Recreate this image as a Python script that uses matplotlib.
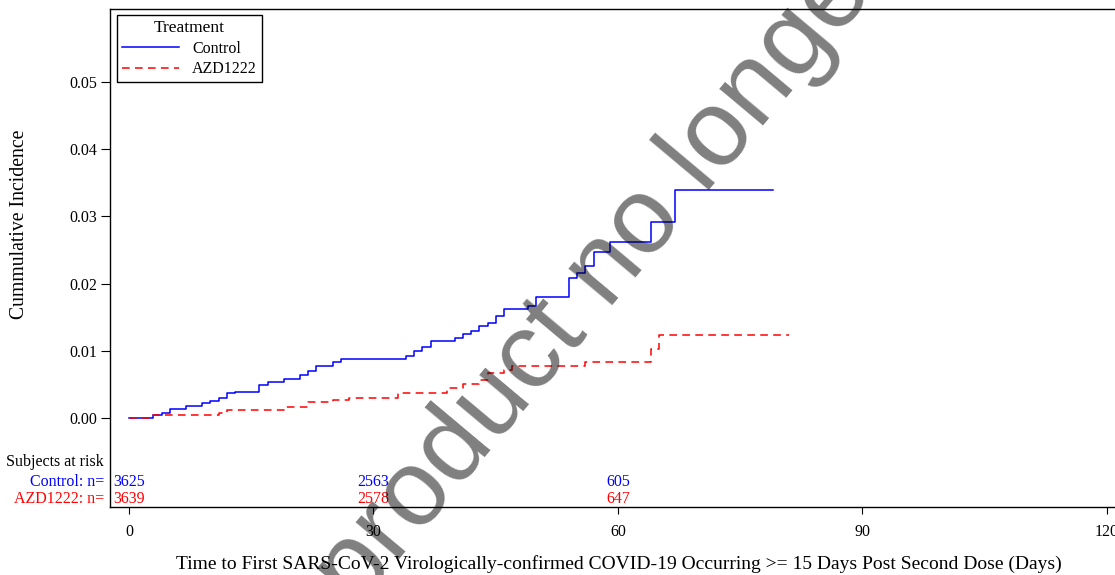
import matplotlib
matplotlib.use("Agg")
import matplotlib.pyplot as plt
import matplotlib.transforms as mtransforms

plt.rcParams["font.family"] = ["Liberation Serif", "DejaVu Serif"]

# Kaplan-Meier style cumulative incidence
ctrl_days = [0, 3, 4, 5, 7, 9, 10, 11, 12, 13, 16, 17, 19, 21, 22, 23, 25, 26,
             34, 35, 36, 37, 40, 41, 42, 43, 44, 45, 46, 49, 50, 54, 55, 56,
             57, 59, 64, 67, 79]
ctrl_inc = [0, 0.00045, 0.0008, 0.0014, 0.0018, 0.0022, 0.0026, 0.0030,
            0.0037, 0.0039, 0.0049, 0.0053, 0.0058, 0.0064, 0.0070, 0.0077,
            0.0084, 0.0088, 0.0092, 0.0100, 0.0106, 0.0115, 0.0119, 0.0125,
            0.0130, 0.0137, 0.0142, 0.0152, 0.0162, 0.0167, 0.0180, 0.0209,
            0.0216, 0.0226, 0.0247, 0.0262, 0.0292, 0.0339, 0.0339]

azd_days = [0, 3, 11, 12, 19, 22, 25, 27, 33, 39, 41, 43, 44, 46, 47, 56, 64,
            65, 81]
azd_inc = [0, 0.00045, 0.0007, 0.0012, 0.0016, 0.0024, 0.0027, 0.0030,
           0.0037, 0.0044, 0.0050, 0.0057, 0.0067, 0.0071, 0.0077, 0.0084,
           0.0103, 0.0124, 0.0124]

risk_days = [0, 30, 60]
ctrl_risk = [3625, 2563, 605]
azd_risk = [3639, 2578, 647]

x_ticks = [0, 30, 60, 90, 120]
y_ticks = [0.00, 0.01, 0.02, 0.03, 0.04, 0.05]

W, H = 1115, 575
fig = plt.figure(figsize=(W / 100, H / 100), dpi=100)
ax = fig.add_axes([110 / W, (H - 507) / H, 1010 / W, 498 / H])

ax.step(ctrl_days, ctrl_inc, where="post", color="#0000ff", lw=1.1,
        label="Control")
ax.step(azd_days, azd_inc, where="post", color="#ff0000", lw=1.1,
        linestyle=(0, (5, 3.5)), label="AZD1222")

ax.set_xlim(-2.33, 121.6)
ax.set_ylim(-0.01324, 0.06086)
ax.set_xticks(x_ticks)
ax.set_yticks(y_ticks)
ax.set_yticklabels([f"{v:.2f}" for v in y_ticks])
ax.tick_params(axis="x", length=5, pad=7, labelsize=11.5, direction="out")
ax.tick_params(axis="y", length=6.5, pad=3, labelsize=11.5, direction="out")
for s in ax.spines.values():
    s.set_linewidth(1.0)
    s.set_color("black")

leg = ax.legend(title="Treatment", loc="upper left",
                bbox_to_anchor=(117 / W, 1 - 15 / H),
                bbox_transform=fig.transFigure, borderaxespad=0,
                fontsize=11.5, title_fontsize=12.5, handlelength=3.6,
                labelspacing=0.3, fancybox=False, framealpha=1,
                edgecolor="black", borderpad=0.3, handletextpad=0.8)
leg.get_frame().set_linewidth(1.0)

# subjects at risk table
row_tr = mtransforms.blended_transform_factory(fig.transFigure, ax.transData)
val_tr = ax.transData
y_head, y_ctrl, y_azd = -0.00655, -0.00953, -0.01206
ax.text(104 / W, y_head, "Subjects at risk", transform=row_tr, ha="right",
        va="center", fontsize=11.5)
ax.text(104 / W, y_ctrl, "Control: n=", transform=row_tr, ha="right",
        va="center", fontsize=11.5, color="#0000ff")
ax.text(104 / W, y_azd, "AZD1222: n=", transform=row_tr, ha="right",
        va="center", fontsize=11.5, color="#ff0000")
for d, c, a in zip(risk_days, ctrl_risk, azd_risk):
    ax.text(d, y_ctrl, str(c), transform=val_tr, ha="center", va="center",
            fontsize=11.5, color="#0000ff")
    ax.text(d, y_azd, str(a), transform=val_tr, ha="center", va="center",
            fontsize=11.5, color="#ff0000")

fig.text(20 / W, 1 - 224 / H, "Cummulative Incidence", rotation=90,
         ha="center", va="center", fontsize=14.2)
fig.text(619 / W, 1 - 564 / H,
         "Time to First SARS-CoV-2 Virologically-confirmed COVID-19 "
         "Occurring >= 15 Days Post Second Dose (Days)",
         ha="center", va="center", fontsize=14)

# watermark
fig.text(622 / W, 1 - 251 / H, "Medicinal product no longer authorised",
         rotation=50, rotation_mode="anchor", ha="center", va="center",
         fontsize=78, family="Liberation Sans", color="black", alpha=0.5,
         zorder=10)

fig.savefig("out.png", dpi=100)
